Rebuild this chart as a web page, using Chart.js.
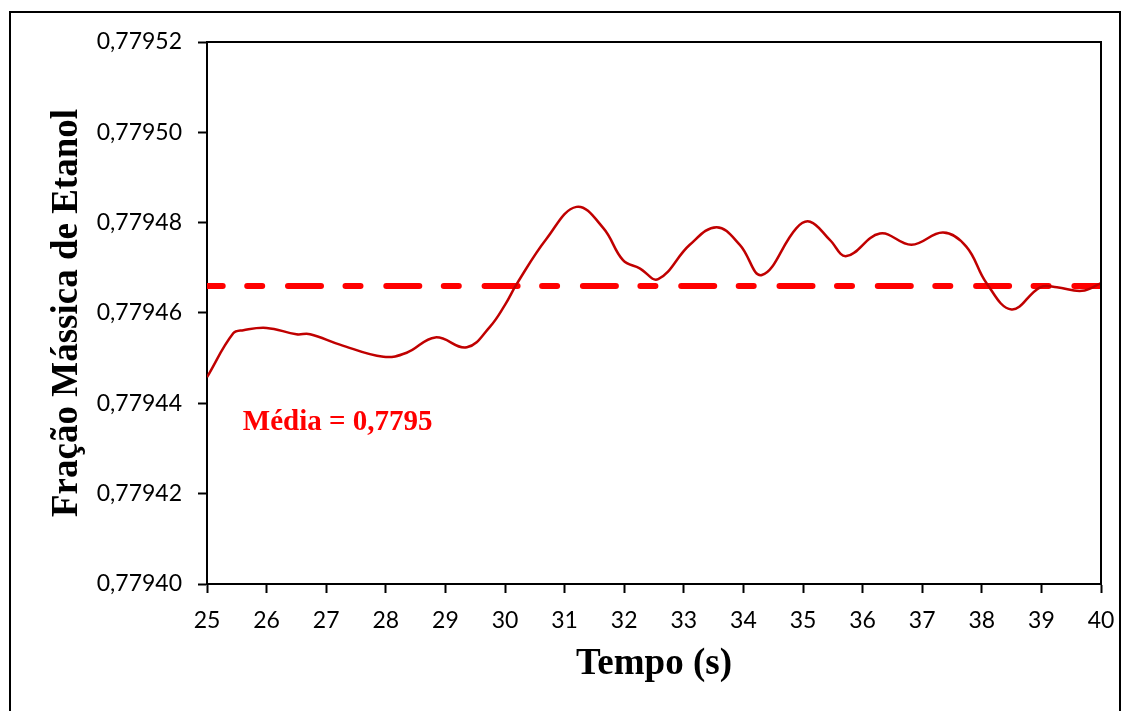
<!DOCTYPE html>
<html>
<head>
<meta charset="utf-8">
<script src="https://cdn.jsdelivr.net/npm/chart.js@4.4.1/dist/chart.umd.min.js"></script>
<style>
  html, body { margin: 0; padding: 0; background: #fff; }
  #wrap { position: relative; width: 1131px; height: 711px; }
</style>
</head>
<body>
<div id="wrap"><canvas id="c" width="1131" height="711"></canvas></div>
<script>
// Tempo (s) and ethanol mass fraction along the monitored interval
const tempo = [25.0, 25.44, 25.61, 26.0, 26.5, 26.73, 27.23, 27.96, 28.35, 28.83,
               29.36, 29.75, 30.0, 30.2, 30.7, 31.2, 31.65, 31.98, 32.26, 32.57,
               33.10, 33.55, 33.94, 34.31, 34.89, 35.12, 35.45, 35.73, 36.29, 36.82,
               37.35, 37.74, 38.08, 38.50, 38.98, 39.26, 39.68, 40.0];
const fracao = [0.7794458, 0.7794555, 0.7794562, 0.7794567, 0.7794553, 0.7794553, 0.7794530, 0.7794503, 0.7794512, 0.7794546,
                0.7794524, 0.7794570, 0.7794618, 0.7794665, 0.7794765, 0.7794835, 0.7794788, 0.7794717, 0.7794699, 0.7794675,
                0.7794751, 0.7794790, 0.7794751, 0.7794684, 0.7794788, 0.7794802, 0.7794762, 0.7794726, 0.7794776, 0.7794751,
                0.7794778, 0.7794747, 0.7794666, 0.7794608, 0.7794657, 0.7794657, 0.7794649, 0.7794666];
// Time-averaged mass fraction
const mediaFracao = 0.779466;

const xTicks = [25, 26, 27, 28, 29, 30, 31, 32, 33, 34, 35, 36, 37, 38, 39, 40];
const yTicks = [0.77940, 0.77942, 0.77944, 0.77946, 0.77948, 0.77950, 0.77952];

const serie = tempo.map((t, i) => ({ x: t, y: fracao[i] }));
const linhaMedia = [
  { x: xTicks[0], y: mediaFracao },
  { x: xTicks[xTicks.length - 1], y: mediaFracao }
];

const tickFont = { family: 'Lato', size: 23 };
const titleFont = { family: 'Liberation Serif', size: 37, weight: 'bold' };

// White page, outer frame, plot box and the mean annotation
const framePlugin = {
  id: 'frame',
  beforeDraw(chart) {
    const ctx = chart.ctx;
    ctx.save();
    ctx.fillStyle = '#fff';
    ctx.fillRect(0, 0, chart.width, chart.height);
    ctx.strokeStyle = '#000';
    ctx.lineWidth = 2;
    ctx.strokeRect(10, 12, 1110, 730);
    ctx.restore();
  },
  afterDraw(chart) {
    const { ctx, chartArea: a, scales } = chart;
    ctx.save();
    ctx.strokeStyle = '#000';
    ctx.lineWidth = 2;
    ctx.beginPath();
    ctx.moveTo(a.left, a.top);
    ctx.lineTo(a.right, a.top);
    ctx.lineTo(a.right, a.bottom);
    ctx.stroke();

    const texto = 'Média = ' + mediaFracao.toFixed(4).replace('.', ',');
    ctx.font = 'bold 29px "Liberation Serif"';
    ctx.fillStyle = '#ff0000';
    ctx.textAlign = 'left';
    ctx.textBaseline = 'alphabetic';
    ctx.fillText(texto, scales.x.getPixelForValue(25.6), scales.y.getPixelForValue(0.779434));
    ctx.restore();
  }
};

new Chart(document.getElementById('c'), {
  type: 'line',
  data: {
    datasets: [
      {
        label: 'Fração mássica',
        data: serie,
        borderColor: '#c00000',
        borderWidth: 2.5,
        pointRadius: 0,
        fill: false,
        tension: 0.4
      },
      {
        label: 'Média',
        data: linhaMedia,
        borderColor: '#ff0000',
        borderWidth: 6,
        pointRadius: 0,
        fill: false,
        tension: 0,
        borderCapStyle: 'round',
        borderDash: [33, 24.5, 15, 25.8],
        borderDashOffset: 17.3
      }
    ]
  },
  options: {
    responsive: false,
    animation: false,
    events: [],
    layout: { padding: { left: 0, top: 42, right: 30, bottom: 0 } },
    plugins: { legend: { display: false }, tooltip: { enabled: false } },
    scales: {
      x: {
        type: 'linear',
        min: xTicks[0],
        max: xTicks[xTicks.length - 1],
        afterBuildTicks: (s) => { s.ticks = xTicks.map(v => ({ value: v })); },
        afterFit: (s) => { s.height = 127; },
        ticks: { font: tickFont, color: '#000', padding: 14, maxRotation: 0, autoSkip: false,
                 callback: (v) => String(v) },
        grid: { drawOnChartArea: false, drawTicks: true, tickLength: 9, tickWidth: 2, tickColor: '#000' },
        border: { display: true, color: '#000', width: 2 },
        title: { display: true, text: 'Tempo (s)', font: titleFont, color: '#000',
                 padding: { top: 0, bottom: 24 } }
      },
      y: {
        type: 'linear',
        min: yTicks[0],
        max: yTicks[yTicks.length - 1],
        afterBuildTicks: (s) => { s.ticks = yTicks.map(v => ({ value: v })); },
        afterFit: (s) => { s.width = 207; },
        ticks: { font: tickFont, color: '#000', padding: 16,
                 callback: (v) => Number(v).toFixed(5).replace('.', ',') },
        grid: { drawOnChartArea: false, drawTicks: true, tickLength: 9, tickWidth: 2, tickColor: '#000' },
        border: { display: true, color: '#000', width: 2 },
        title: { display: true, text: 'Fração Mássica de Etanol', font: titleFont, color: '#000',
                 padding: { top: 45, bottom: 0 } }
      }
    }
  },
  plugins: [framePlugin]
});
</script>
</body>
</html>
